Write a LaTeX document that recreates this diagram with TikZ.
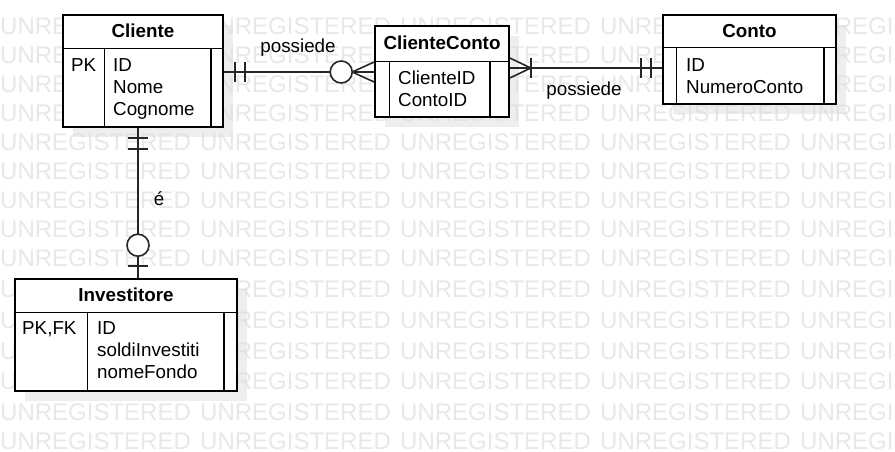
\documentclass[tikz,border=0pt]{standalone}
\usepackage{fontspec}
\setmainfont{Liberation Sans}
\usepackage{tikz}
\usetikzlibrary{positioning, calc, shadows}

\begin{document}
\begin{tikzpicture}[
        x=1pt, y=-1pt,
        entity/.style={rectangle, draw, line width=1.6pt, fill=white, inner sep=0pt,
            drop shadow={shadow xshift=10pt, shadow yshift=-10pt, fill=black!13, opacity=0.5}},
        divider/.style={line width=1.4pt},
        title/.style={font=\fontsize{18.8}{22}\selectfont\bfseries, inner sep=0pt, anchor=base},
        fields/.style={font=\fontsize{18.8}{22}\selectfont, align=left, inner sep=0pt, anchor=north west},
        label/.style={font=\fontsize{18.8}{22}\selectfont, inner sep=0pt},
        link/.style={line width=1.6pt, draw=black!85},
        optional/.style={link, fill=white},
        watermark/.style={font=\fontsize{24}{28}\selectfont, text=black!9, inner sep=0pt, anchor=west}
    ]
    
    \useasboundingbox[fill=white] (0,0) rectangle (895,451);
    
    % Watermark
    \foreach \y in {26,55,84,113,142,171,200,229,258,289,320,351,381,412,441}
        \foreach \x in {0,200,400,600,800}
            \node[watermark] (wm-\x-\y) at (\x,\y) {UNREGISTERED};
    
    % Entities
    \node[entity, minimum width=160pt, minimum height=112pt] (cliente) at (143,71) {};
    \node[entity, minimum width=134pt, minimum height=91pt] (clienteconto) at (442,71.5) {};
    \node[entity, minimum width=173pt, minimum height=89pt] (conto) at (749.5,59.5) {};
    \node[entity, minimum width=222pt, minimum height=112pt] (investitore) at (126,335) {};
    
    % Header and column lines
    \draw[divider] ($(cliente.north west)+(0,34)$) -- ($(cliente.north east)+(0,34)$);
    \draw[divider] ($(cliente.north west)+(42,34)$) -- ($(cliente.south west)+(42,0)$);
    \draw[divider] ($(cliente.north east)+(-13,34)$) -- ($(cliente.south east)+(-13,0)$);
    
    \draw[divider] ($(clienteconto.north west)+(0,36)$) -- ($(clienteconto.north east)+(0,36)$);
    \draw[divider] ($(clienteconto.north west)+(15,36)$) -- ($(clienteconto.south west)+(15,0)$);
    \draw[divider] ($(clienteconto.north east)+(-20,36)$) -- ($(clienteconto.south east)+(-20,0)$);
    
    \draw[divider] ($(conto.north west)+(0,33)$) -- ($(conto.north east)+(0,33)$);
    \draw[divider] ($(conto.north west)+(14,33)$) -- ($(conto.south west)+(14,0)$);
    \draw[divider] ($(conto.north east)+(-13,33)$) -- ($(conto.south east)+(-13,0)$);
    
    \draw[divider] ($(investitore.north west)+(0,34)$) -- ($(investitore.north east)+(0,34)$);
    \draw[divider] ($(investitore.north west)+(73,34)$) -- ($(investitore.south west)+(73,0)$);
    \draw[divider] ($(investitore.north east)+(-14,34)$) -- ($(investitore.south east)+(-14,0)$);
    
    % Titles and fields
    \node[title] (clienteTitle) at (143,37.7) {Cliente};
    \node[fields] (clienteKey) at (71,58.5) {PK};
    \node[fields] (clienteFields) at (113,58.5) {ID\\Nome\\Cognome};
    
    \node[title] (clientecontoTitle) at (442,49.3) {ClienteConto};
    \node[fields] (clientecontoFields) at (398,71) {ClienteID\\ContoID};
    
    \node[title] (contoTitle) at (749.5,37.7) {Conto};
    \node[fields] (contoFields) at (686,58.5) {ID\\NumeroConto};
    
    \node[title] (investitoreTitle) at (126,301.7) {Investitore};
    \node[fields] (investitoreKey) at (22,321.5) {PK,FK};
    \node[fields] (investitoreFields) at (97,321.5) {ID\\soldiInvestiti\\nomeFondo};
    
    % Relationships
    \coordinate (row1) at (0,72);
    \coordinate (row2) at (0,68);
    \coordinate (col1) at (138,0);
    
    % Cliente -- ClienteConto
    \draw[link] (cliente.east |- row1) -- (clienteconto.west |- row1);
    \draw[link] ($(cliente.east |- row1)+(11,-10)$) -- ++(0,20);
    \draw[link] ($(cliente.east |- row1)+(21,-10)$) -- ++(0,20);
    \draw[link] ($(clienteconto.west |- row1)+(0,-10)$) -- ($(clienteconto.west |- row1)+(-22,0)$) -- ($(clienteconto.west |- row1)+(0,10)$);
    \draw[optional] ($(clienteconto.west |- row1)+(-33,0)$) circle (11);
    \node[label] (possiede1) at (298,48) {possiede};
    
    % ClienteConto -- Conto
    \draw[link] (clienteconto.east |- row2) -- (conto.west |- row2);
    \draw[link] ($(clienteconto.east |- row2)+(0,-10)$) -- ($(clienteconto.east |- row2)+(21,0)$) -- ($(clienteconto.east |- row2)+(0,10)$);
    \draw[link] ($(clienteconto.east |- row2)+(21,-10)$) -- ++(0,20);
    \draw[link] ($(conto.west |- row2)+(-21,-10)$) -- ++(0,20);
    \draw[link] ($(conto.west |- row2)+(-11,-10)$) -- ++(0,20);
    \node[label] (possiede2) at (584,91) {possiede};
    
    % Cliente -- Investitore
    \draw[link] (cliente.south -| col1) -- (investitore.north -| col1);
    \draw[link] ($(cliente.south -| col1)+(-10,10)$) -- ++(20,0);
    \draw[link] ($(cliente.south -| col1)+(-10,21)$) -- ++(20,0);
    \draw[link] ($(investitore.north -| col1)+(-10,-12)$) -- ++(20,0);
    \draw[optional] ($(investitore.north -| col1)+(0,-33)$) circle (11);
    \node[label] (e) at (159,199) {é};
    
    \end{tikzpicture}
\end{document}
